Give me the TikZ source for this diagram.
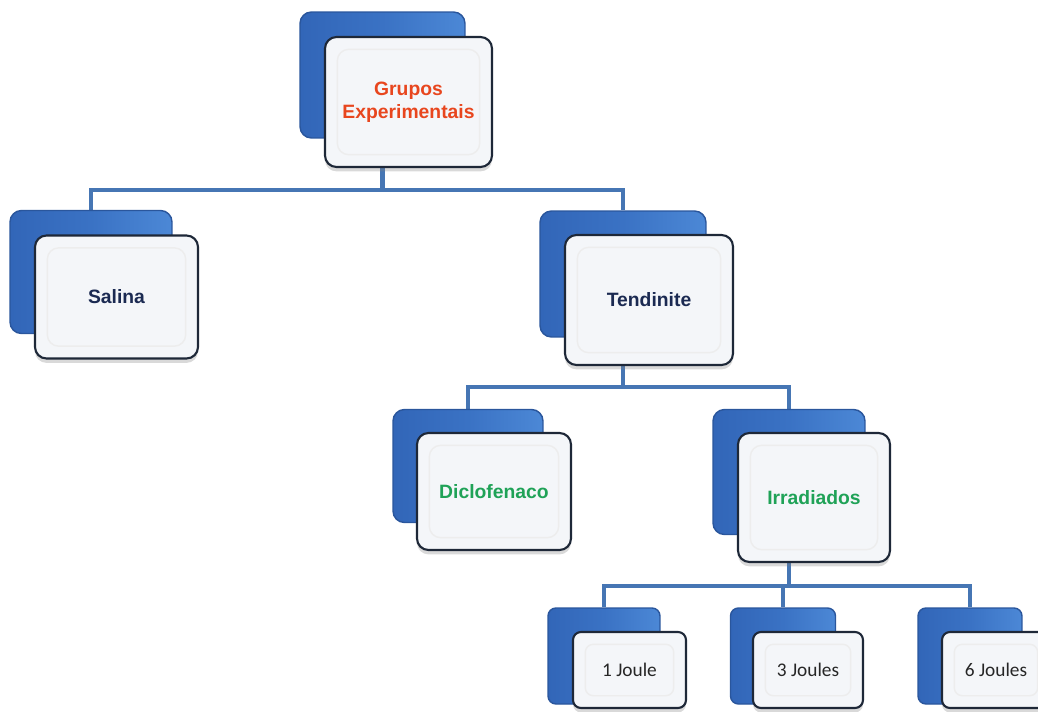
\documentclass[tikz,border=0pt]{standalone}
\usepackage{fontspec}
\setmainfont{Liberation Sans}
\newfontfamily\joulefont{Carlito}
\usetikzlibrary{shadows,backgrounds}

\definecolor{backblue}{HTML}{3A72C4}
\definecolor{backdark}{HTML}{3266B8}
\definecolor{backlight}{HTML}{4C88D6}
\definecolor{backedge}{HTML}{2A569C}
\definecolor{frontfill}{HTML}{F4F6F9}
\definecolor{frontedge}{HTML}{1E2838}
\definecolor{linkblue}{HTML}{4676B4}
\definecolor{titlered}{HTML}{E8461E}
\definecolor{navytext}{HTML}{1B2A52}
\definecolor{greentext}{HTML}{1FA257}

\tikzset{
  back/.style={rectangle, rounded corners=6.5pt, draw=backedge, line width=0.8pt,
    left color=backdark, right color=backlight, middle color=backblue, inner sep=0pt},
  front/.style={rectangle, rounded corners=6.5pt, draw=frontedge, line width=1.2pt,
    fill=frontfill, inner sep=0pt, align=center, font=\bfseries\fontsize{11}{13}\selectfont,
    drop shadow={shadow xshift=0pt, shadow yshift=-2.5pt, opacity=0.3},
    path picture={\draw[black!7, line width=0.8pt]
      ([shift={(7pt,-7pt)}]path picture bounding box.north west) rectangle
      ([shift={(-7pt,7pt)}]path picture bounding box.south east);}},
  small/.style={rounded corners=4.5pt, font=\joulefont\fontsize{11}{13}\selectfont, text=black!85},
  link/.style={draw=linkblue, line width=2.8pt}
}

\begin{document}
\begin{tikzpicture}[x=0.02cm, y=-0.02cm]
\clip (0,0) rectangle (1038,711);

% raiz
\node[back, minimum width=3.3cm, minimum height=2.52cm] (top-b) at (382.5,75) {};
\node[front, minimum width=3.34cm, minimum height=2.6cm, text=titlered] (top) at (408.5,102) {Grupos\\Experimentais};

% primeiro nivel
\node[back, minimum width=3.24cm, minimum height=2.46cm] (sal-b) at (91,272) {};
\node[front, minimum width=3.26cm, minimum height=2.46cm, text=navytext] (sal) at (116.5,297) {Salina};
\node[back, minimum width=3.32cm, minimum height=2.52cm] (ten-b) at (623,274) {};
\node[front, minimum width=3.36cm, minimum height=2.6cm, text=navytext] (ten) at (649,300) {Tendinite};

% segundo nivel
\node[back, minimum width=3.0cm, minimum height=2.26cm] (dic-b) at (468,466) {};
\node[front, minimum width=3.08cm, minimum height=2.34cm, text=greentext] (dic) at (494,491.5) {Diclofenaco};
\node[back, minimum width=3.04cm, minimum height=2.5cm] (irr-b) at (789,472) {};
\node[front, minimum width=3.04cm, minimum height=2.58cm, text=greentext] (irr) at (814,497.5) {Irradiados};

% doses
\node[back, small, minimum width=2.24cm, minimum height=1.92cm] (j1-b) at (604,656) {};
\node[front, small, minimum width=2.26cm, minimum height=1.52cm] (j1) at (629.5,670) {1 Joule};
\node[back, small, minimum width=2.1cm, minimum height=1.92cm] (j3-b) at (783,656) {};
\node[front, small, minimum width=2.2cm, minimum height=1.52cm] (j3) at (808,670) {3 Joules};
\node[back, small, minimum width=2.08cm, minimum height=1.92cm] (j6-b) at (970,656) {};
\node[front, small, minimum width=2.16cm, minimum height=1.52cm] (j6) at (996,670) {6 Joules};

% ligacoes
\coordinate (bar1) at (top-b.center |- 0,190);
\coordinate (bar2) at (ten-b.center |- 0,387);
\coordinate (bar3) at (irr-b.center |- 0,586);
\begin{scope}[on background layer]
\draw[link] (top-b.center) -- (bar1) -| (sal-b.north);
\draw[link] (bar1) -| (ten-b.north);
\draw[link] (ten-b.center) -- (bar2) -| (dic-b.north);
\draw[link] (bar2) -| (irr-b.north);
\draw[link] (irr-b.center) -- (bar3) -| (j1-b.north);
\draw[link] (bar3) -| (j3-b.north);
\draw[link] (bar3) -| (j6-b.north);
\end{scope}
\end{tikzpicture}
\end{document}
